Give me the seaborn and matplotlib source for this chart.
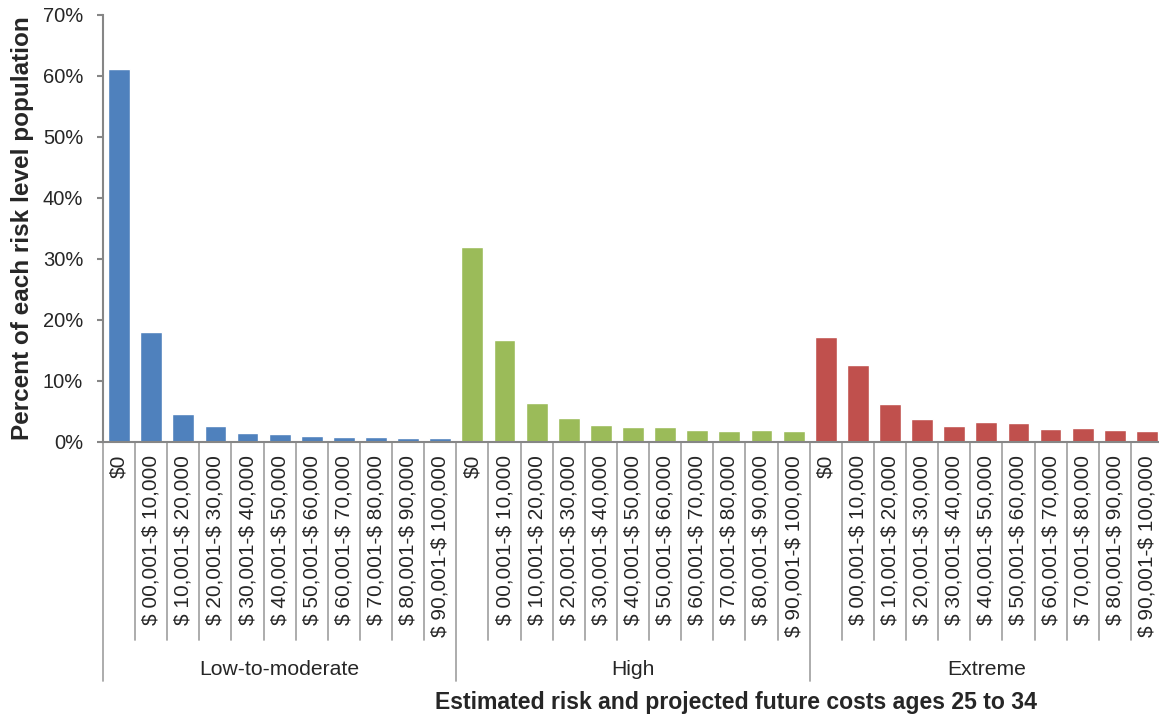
import numpy as np
import pandas as pd
import matplotlib
matplotlib.use("Agg")
import matplotlib.pyplot as plt
from matplotlib.ticker import PercentFormatter, FixedLocator
import seaborn as sns

# Cost bins shown under each bar
bins = ["$0", "$ 00,001-$ 10,000", "$ 10,001-$ 20,000", "$ 20,001-$ 30,000",
        "$ 30,001-$ 40,000", "$ 40,001-$ 50,000", "$ 50,001-$ 60,000",
        "$ 60,001-$ 70,000", "$ 70,001-$ 80,000", "$ 80,001-$ 90,000",
        "$ 90,001-$ 100,000"]

# Risk levels and their colours
risk_levels = ["Low-to-moderate", "High", "Extreme"]
level_colors = ["#4F81BD", "#9BBB59", "#C0504D"]

# Percent of each risk level population per cost bin
low_moderate = [61.1, 18.0, 4.5, 2.6, 1.5, 1.25, 1.0, 0.8, 0.7, 0.6, 0.6]
high = [32.0, 16.7, 6.35, 3.9, 2.7, 2.4, 2.4, 1.9, 1.75, 1.9, 1.75]
extreme = [17.2, 12.6, 6.2, 3.7, 2.6, 3.2, 3.1, 2.1, 2.25, 1.9, 1.75]

rows = []
for level, values in zip(risk_levels, [low_moderate, high, extreme]):
    for b, v in zip(bins, values):
        rows.append({"key": f"{level}|{b}", "level": level, "bin": b, "pct": v})
df = pd.DataFrame(rows)

sns.set_style("white")
plt.rcParams["font.family"] = ["Liberation Sans", "DejaVu Sans"]
# Dollar signs in the labels are literal text
plt.rcParams["text.parse_math"] = False

W, H = 1159, 720
fig = plt.figure(figsize=(W / 100, H / 100), dpi=100)
ax = fig.add_axes([103 / W, 278.3 / H, 1060 / W, 426.7 / H])

sns.barplot(data=df, x="key", y="pct", hue="level", hue_order=risk_levels,
            palette=level_colors, dodge=False, width=0.68, saturation=1,
            legend=False, ax=ax)

n = len(df)
nb = len(bins)
ax.set_xlim(-0.5, n - 0.5)
ax.set_ylim(0, 70)
ax.yaxis.set_major_locator(FixedLocator(np.arange(0, 71, 10)))
ax.yaxis.set_major_formatter(PercentFormatter(xmax=100, decimals=0))

axis_grey = "#868686"
sep_grey = "#A6A6A6"
for s in ["top", "right"]:
    ax.spines[s].set_visible(False)
for s in ["left", "bottom"]:
    ax.spines[s].set_color(axis_grey)
    ax.spines[s].set_linewidth(1.5)

ax.set_xticks(np.arange(n))
ax.set_xticklabels(list(df["bin"]), rotation=90, fontsize=15.0)
ax.set_xticks(np.arange(-0.5, n, 1), minor=True)
ax.tick_params(axis="x", which="major", length=0, pad=9.5)
ax.tick_params(axis="x", which="minor", length=4, width=1.5, color=axis_grey,
               direction="out")
ax.tick_params(axis="y", which="major", length=4.3, width=1.5, color=axis_grey,
               direction="out", pad=10, labelsize=14.5, left=True)

# Separator lines below the axis: short between bins, long between levels
tr = ax.get_xaxis_transform()
for i in range(n + 1):
    xb = i - 0.5
    bottom = -0.56 if i % nb == 0 else -0.465
    ax.plot([xb, xb], [0, bottom], transform=tr, color=sep_grey, lw=1.3,
            clip_on=False, zorder=0)

# Risk level labels under each group
for g, level in enumerate(risk_levels):
    ax.text(g * nb + (nb - 1) / 2, -0.535, level, transform=tr, ha="center",
            va="center", fontsize=15.2)

ax.set_xlabel("Estimated risk and projected future costs ages 25 to 34",
              fontsize=16.6, fontweight="bold", va="center")
ax.xaxis.set_label_coords(0.597, -0.612)
ax.set_ylabel("Percent of each risk level population", fontsize=17.5,
              fontweight="bold", va="center")
ax.yaxis.set_label_coords(-0.0764, 0.5)

fig.savefig("out.png", dpi=100)
